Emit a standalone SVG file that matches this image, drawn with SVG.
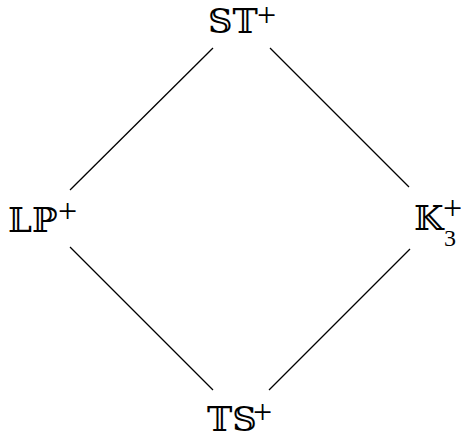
<svg xmlns="http://www.w3.org/2000/svg" width="461" height="438" viewBox="0 0 461 438">
<style>
.bb{font-family:"DejaVu Serif","DejaVu Sans",serif;font-size:34px;fill:#000}
.sup{font-family:"Liberation Serif",serif;font-size:34px;fill:#000}
.sub{font-family:"Liberation Serif",serif;font-size:24px;fill:#000}
#connectors line{stroke:#000;stroke-width:1.3;fill:none}
</style>
<rect width="461" height="438" fill="#fff"/>
<g id="connectors">
<line x1="213" y1="48" x2="70" y2="190"/>
<line x1="270" y1="48" x2="409" y2="187"/>
<line x1="70" y1="247" x2="213" y2="390"/>
<line x1="410" y1="249" x2="269" y2="390"/>
</g>
<g id="node-ST">
<text class="bb" x="208" y="33">𝕊𝕋</text>
<text class="sup" x="257" y="26">+</text>
</g>
<g id="node-LP">
<text class="bb" x="8" y="232">𝕃ℙ</text>
<text class="sup" x="58" y="222">+</text>
</g>
<g id="node-K3">
<text class="bb" x="414" y="230">𝕂</text>
<text class="sup" x="443" y="219">+</text>
<text class="sub" x="444" y="246">3</text>
</g>
<g id="node-TS">
<text class="bb" x="207" y="431">𝕋𝕊</text>
<text class="sup" x="253" y="423">+</text>
</g>
</svg>
